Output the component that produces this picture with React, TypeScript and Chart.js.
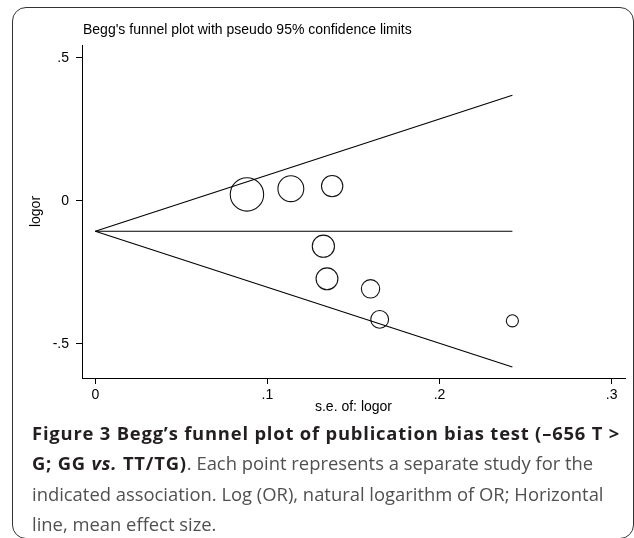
import React, { useEffect, useRef } from 'react';
import { Chart, registerables } from 'chart.js';

Chart.register(...registerables);

// ---- data ----
const studySE = [0.0881, 0.1136, 0.1376, 0.1325, 0.1346, 0.1599, 0.1652, 0.2423];
const studyLogOR = [0.022, 0.042, 0.051, -0.159, -0.273, -0.308, -0.415, -0.42];
const limitSE = [0, 0.2423];
const upperLimit = [-0.107, 0.3685];
const lowerLimit = [-0.107, -0.5815];
const meanLine = [-0.107, -0.107];
const xTickValues = [0, 0.1, 0.2, 0.3];
const xTickLabels = ['0', '.1', '.2', '.3'];
const yTickValues = [-0.5, 0, 0.5];
const yTickLabels = ['-.5', '0', '.5'];
const xRange = [-0.00773, 0.30773];
const yRange = [-0.6199, 0.5444];
const chartTitle = "Begg's funnel plot with pseudo 95% confidence limits";
const xAxisTitle = 's.e. of: logor';
const yAxisTitle = 'logor';

const CHART_FONT = '"Liberation Sans", Arial, Helvetica, sans-serif';

const titlePlugin = {
  id: 'stataTitle',
  afterDraw(chart: any) {
    const { ctx, chartArea } = chart;
    ctx.save();
    ctx.font = `14px ${CHART_FONT}`;
    ctx.fillStyle = '#000';
    ctx.textAlign = 'left';
    ctx.textBaseline = 'alphabetic';
    ctx.fillText(chartTitle, chartArea.left + 1, 34);
    ctx.restore();
  },
};

function FunnelChart() {
  const ref = useRef<HTMLCanvasElement | null>(null);

  useEffect(() => {
    if (!ref.current) return;
    const lineStyle = {
      showLine: true,
      borderColor: '#000',
      borderWidth: 1.1,
      pointRadius: 0,
      fill: false,
    };
    const chart = new Chart(ref.current, {
      type: 'scatter',
      data: {
        datasets: [
          { label: 'upper', data: limitSE.map((x, i) => ({ x, y: upperLimit[i] })), ...lineStyle },
          { label: 'lower', data: limitSE.map((x, i) => ({ x, y: lowerLimit[i] })), ...lineStyle },
          { label: 'mean', data: limitSE.map((x, i) => ({ x, y: meanLine[i] })), ...lineStyle },
          {
            label: 'studies',
            data: studySE.map((x, i) => ({ x, y: studyLogOR[i] })),
            showLine: false,
            pointRadius: (c: any) => (c.raw ? 1.47 / c.raw.x : 0),
            pointBackgroundColor: 'rgba(0,0,0,0)',
            pointBorderColor: '#111',
            pointBorderWidth: 1.1,
          },
        ],
      },
      options: {
        animation: false,
        responsive: false,
        events: [],
        clip: false,
        layout: { autoPadding: false, padding: { left: 0, right: 9, top: 45, bottom: 0 } },
        plugins: { legend: { display: false }, tooltip: { enabled: false }, title: { display: false } },
        font: { family: CHART_FONT, size: 14 },
        scales: {
          x: {
            type: 'linear',
            min: xRange[0],
            max: xRange[1],
            afterFit: (s: any) => {
              s.height = 47;
            },
            afterBuildTicks: (s: any) => {
              s.ticks = xTickValues.map((v) => ({ value: v }));
            },
            ticks: {
              callback: (v: any) => xTickLabels[xTickValues.indexOf(v)],
              color: '#000',
              padding: 3,
              maxRotation: 0,
              autoSkip: false,
              font: { family: CHART_FONT, size: 14 },
            },
            grid: { drawOnChartArea: false, tickLength: 6, color: '#000', lineWidth: 1 },
            border: { display: true, color: '#000', width: 1 },
            title: {
              display: true,
              text: xAxisTitle,
              color: '#000',
              font: { family: CHART_FONT, size: 14 },
              padding: { top: 0, bottom: 9 },
            },
          },
          y: {
            type: 'linear',
            min: yRange[0],
            max: yRange[1],
            afterFit: (s: any) => {
              s.width = 82;
            },
            afterBuildTicks: (s: any) => {
              s.ticks = yTickValues.map((v) => ({ value: v }));
            },
            ticks: {
              callback: (v: any) => yTickLabels[yTickValues.indexOf(v)],
              color: '#000',
              padding: 7,
              autoSkip: false,
              font: { family: CHART_FONT, size: 14 },
            },
            grid: { drawOnChartArea: false, tickLength: 6, color: '#000', lineWidth: 1 },
            border: { display: true, color: '#000', width: 1 },
            title: {
              display: true,
              text: yAxisTitle,
              color: '#000',
              font: { family: CHART_FONT, size: 14 },
              padding: { top: 28, bottom: 0 },
            },
          },
        },
      } as any,
      plugins: [titlePlugin],
    });
    return () => chart.destroy();
  }, []);

  return (
    <canvas
      ref={ref}
      width={634}
      height={425}
      style={{ position: 'absolute', left: 0, top: 0, width: 634, height: 425, display: 'block' }}
    />
  );
}

const captionFont = '"Open Sans", "Noto Sans", sans-serif';
const boldColor = '#231f20';
const textColor = '#505050';

export default function App() {
  const lineStyle: React.CSSProperties = { whiteSpace: 'nowrap', height: 30.3 };
  const boldStyle: React.CSSProperties = { color: boldColor, letterSpacing: '0.8px' };
  return (
    <div
      style={{
        position: 'absolute',
        left: 0,
        top: 0,
        width: 634,
        height: 538,
        overflow: 'hidden',
        background: '#fff',
      }}
    >
      <div
        style={{
          position: 'absolute',
          left: 12,
          top: 7,
          width: 622,
          height: 532,
          border: '1.5px solid #333',
          borderRadius: 14,
          boxSizing: 'border-box',
        }}
      />
      <FunnelChart />
      <div
        style={{
          position: 'absolute',
          left: 32,
          top: 418,
          fontFamily: captionFont,
          fontSize: 18.4,
          lineHeight: '30.3px',
          color: textColor,
        }}
      >
        <div style={lineStyle}>
          <b style={boldStyle}>Figure 3 Begg’s funnel plot of publication bias test (–656 T &gt;</b>
        </div>
        <div style={lineStyle}>
          <b style={boldStyle}>
            G; GG <i>vs.</i> TT/TG)
          </b>
          . Each point represents a separate study for the
        </div>
        <div style={lineStyle}>indicated association. Log (OR), natural logarithm of OR; Horizontal</div>
        <div style={lineStyle}>line, mean effect size.</div>
      </div>
    </div>
  );
}
